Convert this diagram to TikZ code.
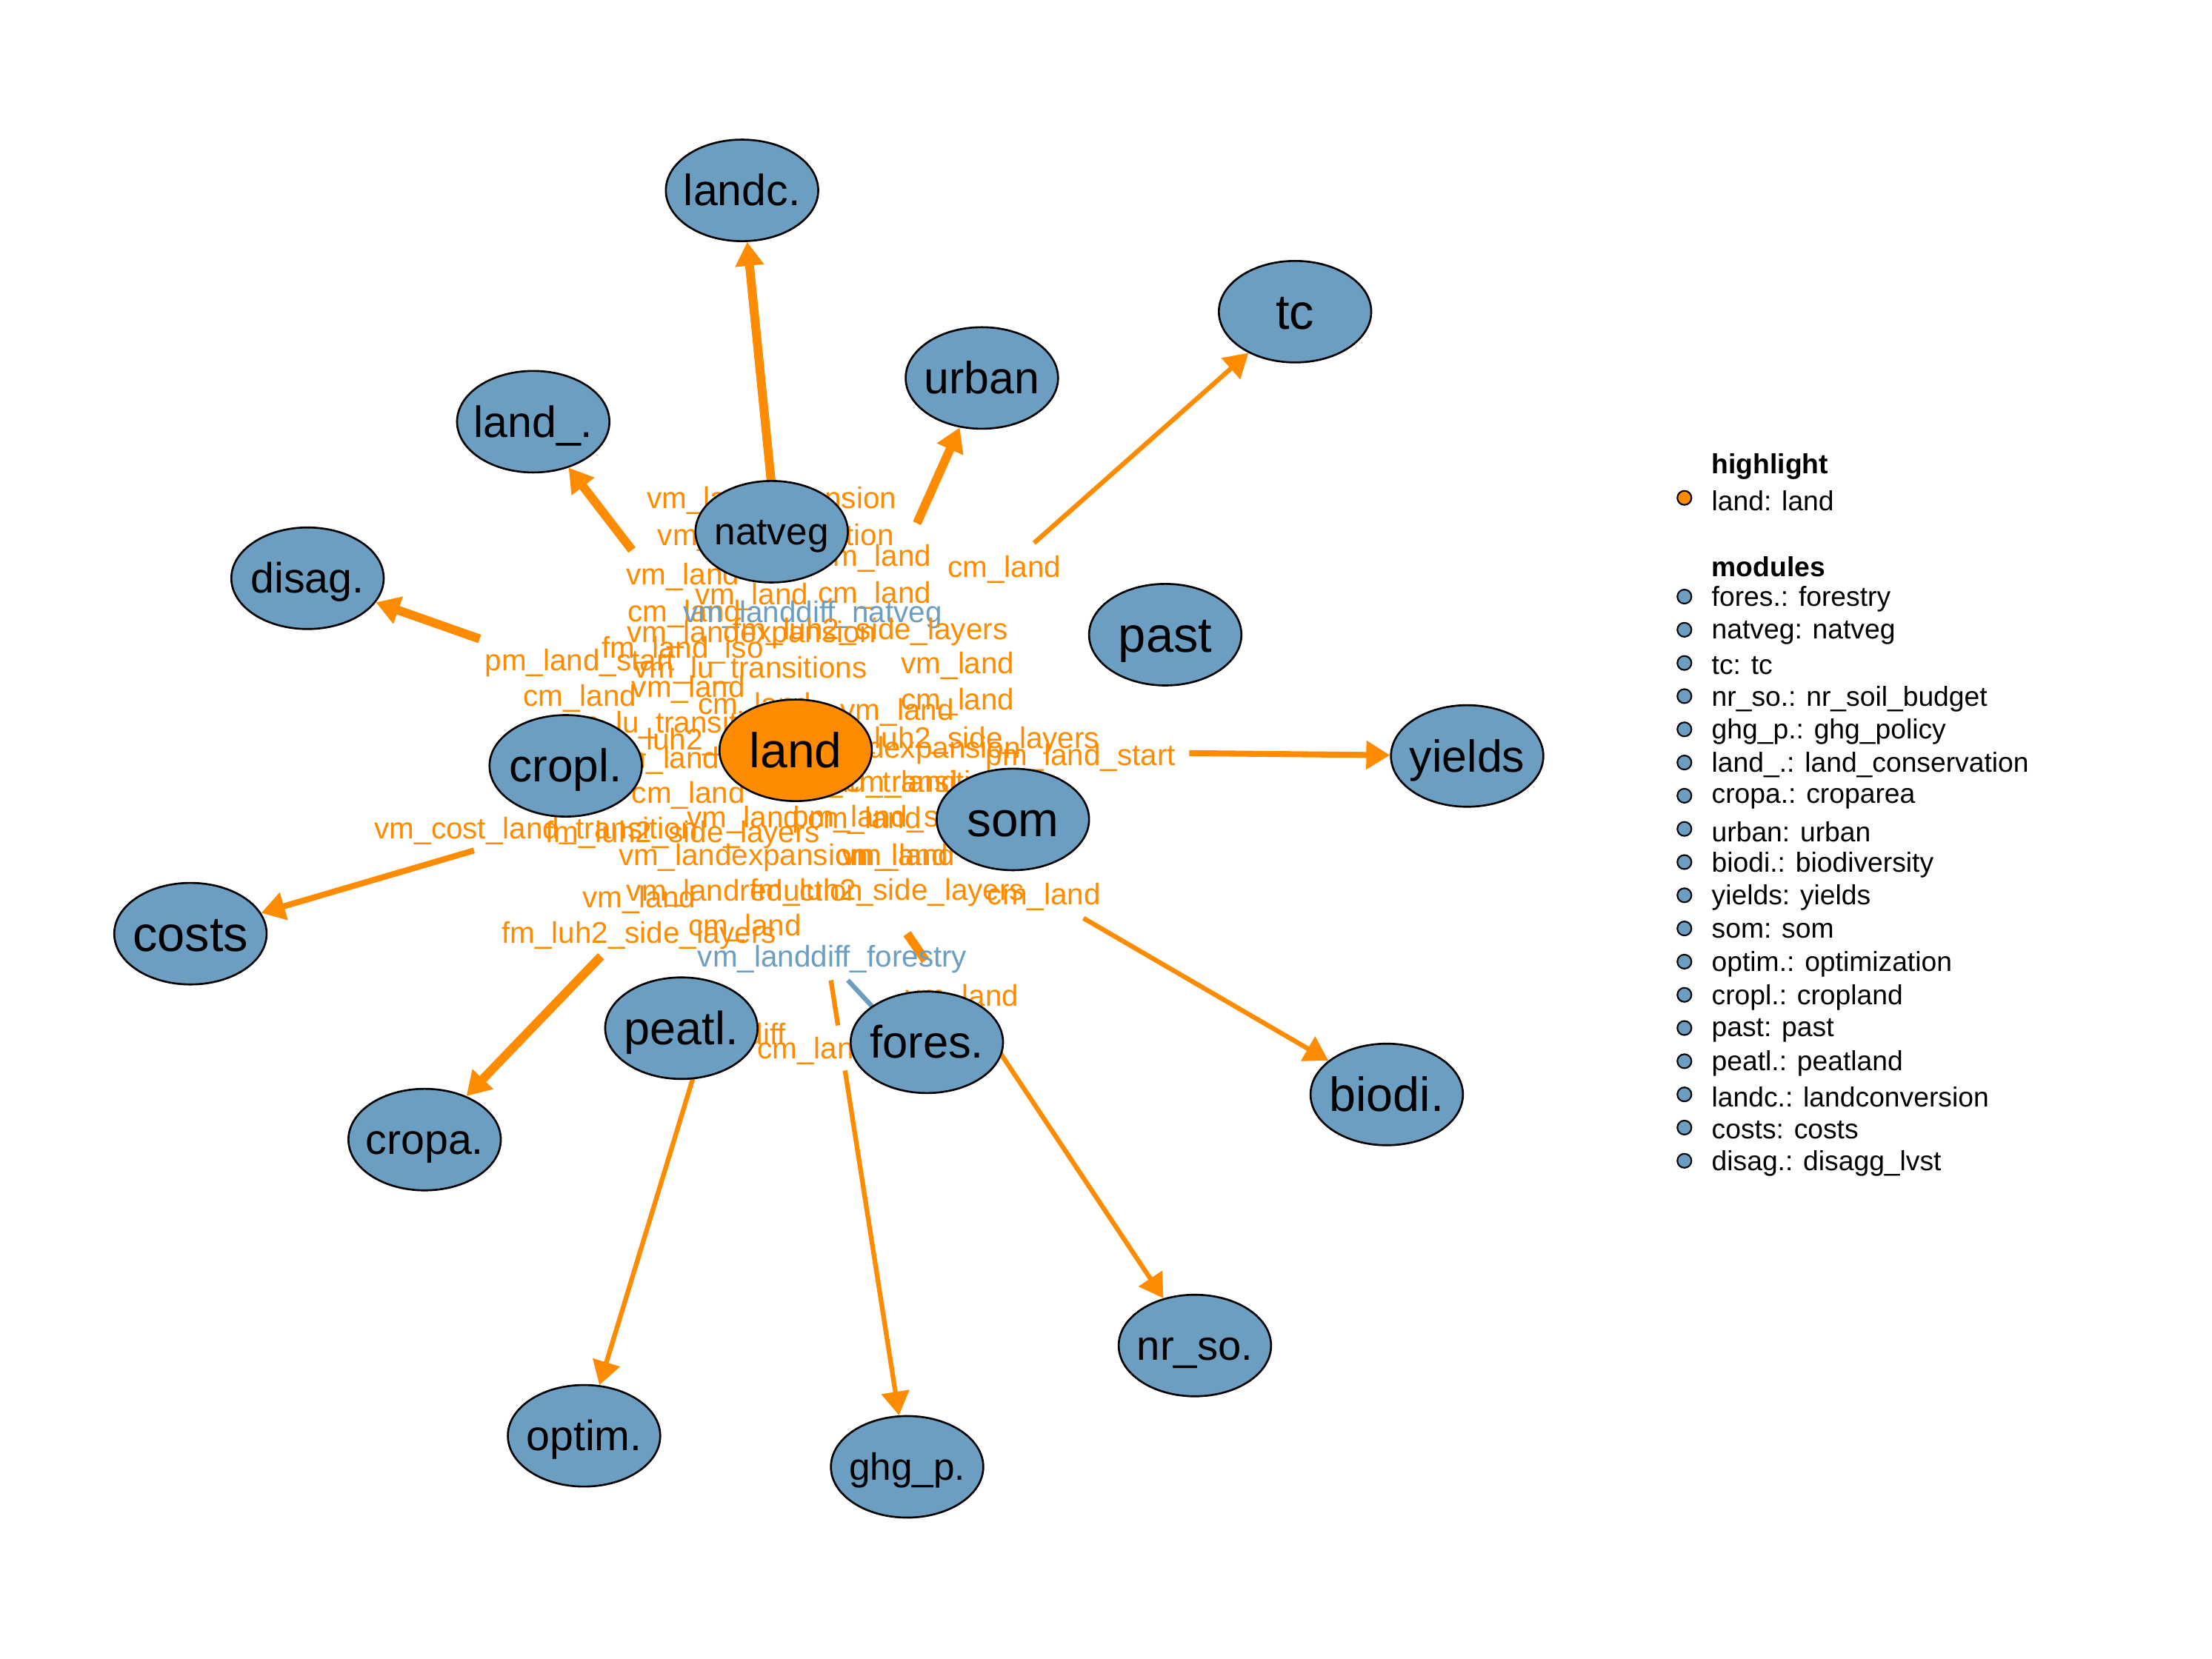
\documentclass[tikz,border=0pt]{standalone}
\usepackage{fontspec}
\setmainfont{Liberation Sans}
\usetikzlibrary{shapes.geometric,arrows.meta}
\definecolor{nodeblue}{RGB}{107,158,192}
\definecolor{hiorange}{RGB}{255,140,0}
\pgfdeclarelayer{bglayer}
\pgfdeclarelayer{edgelayer}
\pgfdeclarelayer{labellayer}
\pgfsetlayers{bglayer,edgelayer,labellayer,main}
\tikzset{
  mod/.style={ellipse,draw=black,line width=0.75pt,fill=nodeblue,inner sep=0pt,
    minimum width=2.057cm,minimum height=1.371cm},
  hi/.style={mod,fill=hiorange},
  ed/.style={draw=hiorange,line width=1.8pt,-{Triangle[width=0.37cm,length=0.32cm]}},
  edthick/.style={ed,line width=3.4pt},
  edmed/.style={ed,line width=2.3pt},
  seg/.style={draw=hiorange,line width=1.8pt},
  lbl/.style={inner sep=0pt,yshift=-0.038cm,text=hiorange,font=\fontsize{11.5}{13}\selectfont},
  lblb/.style={lbl,text=nodeblue},
  legtxt/.style={anchor=west,inner sep=0pt,yshift=-0.035cm,font=\fontsize{10.6}{12}\selectfont},
  legdot/.style={circle,draw=black,line width=0.6pt,fill=nodeblue,inner sep=0pt,minimum size=0.19cm}
}
\newcommand{\nt}[2]{\makebox[0pt][c]{\fontsize{#1}{#1}\selectfont\raisebox{-0.35em}[0pt][0pt]{#2}}}
\begin{document}
\begin{tikzpicture}[x=0.019043cm,y=-0.019043cm]
\begin{pgfonlayer}{bglayer}
\fill[white] (0,0) rectangle (1568,1176.2);
\end{pgfonlayer}
\useasboundingbox (0,0) rectangle (1568,1176.2);

% ---- module nodes (on top) ----
\node[mod] (landc) at (526,135) {\nt{16.8}{landc.}};
\node[mod] (tc) at (918,221) {\nt{19}{tc}};
\node[mod] (urban) at (696,268) {\nt{17.3}{urban}};
\node[mod] (landu) at (378,299) {\nt{16.8}{land\_.}};
\node[mod] (natveg) at (547,377) {\nt{14.6}{natveg}};
\node[mod] (disag) at (218,410) {\nt{16.3}{disag.}};
\node[mod] (past) at (826,450) {\nt{19}{past}};
\node[mod] (yields) at (1040,536) {\nt{17.3}{yields}};
\node[hi] (land) at (564,532) {\nt{18.8}{land}};
\node[mod] (cropl) at (401,543) {\nt{17.7}{cropl.}};
\node[mod] (som) at (718,581) {\nt{18.7}{som}};
\node[mod] (costs) at (135,662) {\nt{19}{costs}};
\node[mod] (peatl) at (483,729) {\nt{17.9}{peatl.}};
\node[mod] (fores) at (657,739) {\nt{17.5}{fores.}};
\node[mod] (biodi) at (983,776) {\nt{18.4}{biodi.}};
\node[mod] (cropa) at (301,808) {\nt{16.3}{cropa.}};
\node[mod] (nrso) at (847,954) {\nt{16}{nr\_so.}};
\node[mod] (optim) at (414,1018) {\nt{16.3}{optim.}};
\node[mod] (ghgp) at (643,1040) {\nt{14.6}{ghg\_p.}};

% ---- edge start points ----
\coordinate (s-landc) at (547,345);
\coordinate (s-urban) at (650,371);
\coordinate (s-landu) at (448,390);
\coordinate (s-disag) at (340,453);
\coordinate (s-tc) at (733,385);
\coordinate (s-yields) at (843,534);
\coordinate (s-costs) at (336,603);
\coordinate (s-cropa) at (426,678);
\coordinate (s-biodi) at (768,651);
\coordinate (s-nrso) at (700,733);
\coordinate (s-optim) at (495,752);
\coordinate (s-ghga) at (589,695);
\coordinate (e-ghga) at (594,727);
\coordinate (s-ghgb) at (599,759);
\coordinate (s-fa) at (643,662);
\coordinate (e-fa) at (656,681);
\coordinate (s-fb) at (601,695);
\coordinate (e-fb) at (626,722);

\begin{pgfonlayer}{edgelayer}
\draw[edthick] (s-landc) -- (landc);
\draw[edthick] (s-urban) -- (urban);
\draw[edthick] (s-landu) -- (landu);
\draw[edthick] (s-disag) -- (disag);
\draw[edthick] (s-cropa) -- (cropa);
\draw[ed] (s-tc) -- (tc);
\draw[edmed] (s-yields) -- (yields);
\draw[edmed] (s-costs) -- (costs);
\draw[ed] (s-biodi) -- (biodi);
\draw[ed] (s-nrso) -- (nrso);
\draw[ed] (s-optim) -- (optim);
\draw[seg] (s-ghga) -- (e-ghga);
\draw[ed] (s-ghgb) -- (ghgp);
\draw[seg,line width=3.4pt] (s-fa) -- (e-fa);
\draw[seg,draw=nodeblue] (s-fb) -- (e-fb);
\end{pgfonlayer}

% ---- edge labels ----
\begin{pgfonlayer}{labellayer}
\node[lbl] (l01) at (547,353) {vm\_landexpansion};
\node[lbl] (l02) at (550,379) {vm\_landreduction};
\node[lbl] (l03) at (620,394) {vm\_land};
\node[lbl] (l04) at (712,402) {cm\_land};
\node[lbl] (l05) at (484,407) {vm\_land};
\node[lbl] (l06) at (533,421) {vm\_land};
\node[lbl] (l07) at (620,420) {cm\_land};
\node[lbl] (l08) at (485,433) {cm\_land};
\node[lblb] (l09) at (576,434) {vm\_landdiff\_natveg};
\node[lbl] (l10) at (617,446) {fm\_luh2\_side\_layers};
\node[lbl] (l11) at (533,448) {vm\_landexpansion};
\node[lbl] (l12) at (484,459) {fm\_land\_iso};
\node[lbl] (l13) at (411,468) {pm\_land\_start};
\node[lbl] (l14) at (532,473) {vm\_lu\_transitions};
\node[lbl] (l15) at (679,470) {vm\_land};
\node[lbl] (l16) at (488,487) {vm\_land};
\node[lbl] (l17) at (411,493) {cm\_land};
\node[lbl] (l18) at (679,496) {cm\_land};
\node[lbl] (l19) at (535,499) {cm\_land};
\node[lbl] (l20) at (636,503) {vm\_land};
\node[lbl] (l21) at (479,512) {vm\_lu\_transitions};
\node[lbl] (l22) at (520,524) {fm\_luh2\_side\_layers};
\node[lbl] (l23) at (682,523) {fm\_luh2\_side\_layers};
\node[lbl] (l24) at (635,530) {vm\_landexpansion};
\node[lbl] (l25) at (766,535) {pm\_land\_start};
\node[lbl] (l26) at (470,537) {vm\_land};
\node[lbl] (l27) at (640,554) {vm\_lu\_transitions};
\node[lbl] (l28) at (639,554) {cm\_land};
\node[lbl] (l29) at (488,562) {cm\_land};
\node[lbl] (l30) at (527,579) {vm\_land};
\node[lbl] (l31) at (629,579) {pm\_land\_start};
\node[lbl] (l32) at (613,580) {cm\_land};
\node[lbl] (l33) at (380,587) {vm\_cost\_land\_transition};
\node[lbl] (l34) at (484,590) {fm\_luh2\_side\_layers};
\node[lbl] (l35) at (527,606) {vm\_landexpansion};
\node[lbl] (l36) at (632,606) {cm\_land};
\node[lbl] (l37) at (637,606) {vm\_land};
\node[lbl] (l38) at (528,631) {vm\_landreduction};
\node[lbl] (l39) at (629,631) {fm\_luh2\_side\_layers};
\node[lbl] (l40) at (740,634) {cm\_land};
\node[lbl] (l41) at (453,636) {vm\_land};
\node[lbl] (l42) at (453,661) {fm\_luh2\_side\_layers};
\node[lbl] (l43) at (528,656) {cm\_land};
\node[lblb] (l44) at (590,678) {vm\_landdiff\_forestry};
\node[lbl] (l45) at (682,706) {vm\_land};
\node[lbl] (l46) at (503,733) {vm\_landdiff};
\node[lbl] (l47) at (577,743) {cm\_land};
\end{pgfonlayer}

% ---- legend ----
\node[legtxt] (hhead) at (1213,329) {\textbf{highlight}};
\node[legdot,fill=hiorange] (hdot) at (1194,353) {};
\node[legtxt] (htxt) at (1213,353) {land: land};
\node[legtxt] (mhead) at (1213,400) {\textbf{modules}};
\foreach \t [count=\i from 0] in {fores.: forestry,natveg: natveg,tc: tc,nr\_so.: nr\_soil\_budget,ghg\_p.: ghg\_policy,land\_.: land\_conservation,cropa.: croparea,urban: urban,biodi.: biodiversity,yields: yields,som: som,optim.: optimization,cropl.: cropland,past: past,peatl.: peatland,landc.: landconversion,costs: costs,disag.: disagg\_lvst}{
  \node[legdot] (md\i) at (1194,423+23.53*\i) {};
  \node[legtxt] (mt\i) at (1213,423+23.53*\i) {\t};
}
\end{tikzpicture}
\end{document}
